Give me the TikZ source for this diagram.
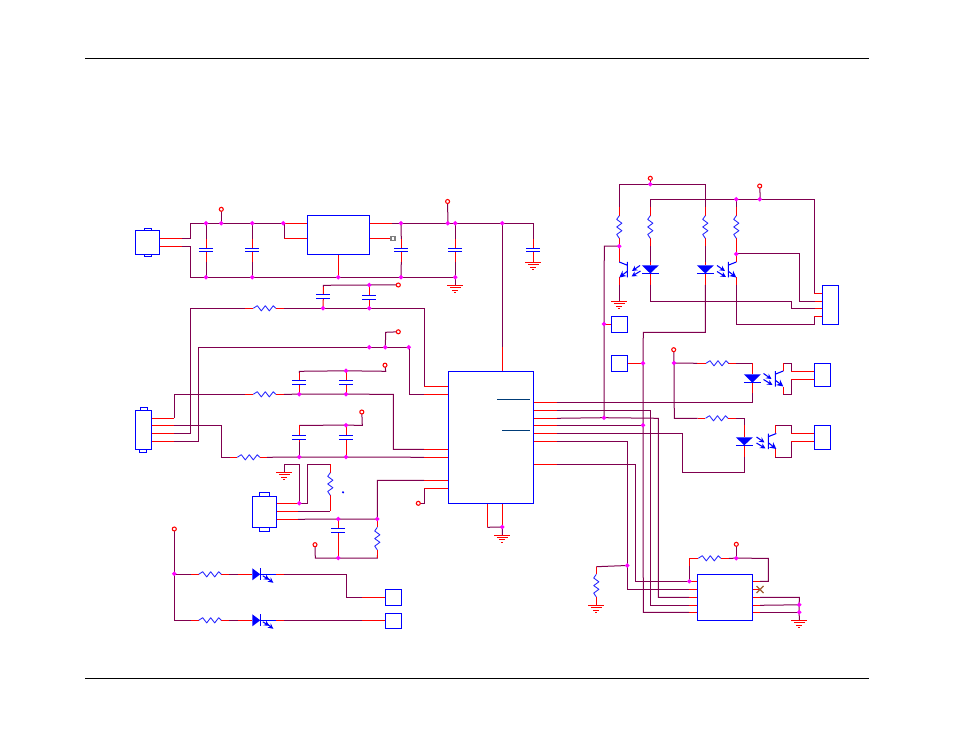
\documentclass[tikz,border=0pt]{standalone}
\usetikzlibrary{arrows.meta}
\definecolor{wirec}{HTML}{80004F}
\definecolor{pinc}{HTML}{FF0000}
\definecolor{bodyc}{HTML}{0000FF}
\definecolor{jc}{HTML}{FF00FF}
\definecolor{overc}{HTML}{003C78}
\definecolor{nc}{HTML}{A06030}
\tikzset{
 wire/.style={draw=wirec,line width=0.75pt,line join=miter},
 pin/.style={draw=pinc,line width=0.75pt},
 body/.style={draw=bodyc,line width=0.8pt},
 res/.style={draw=bodyc!85!white,line width=0.65pt,line join=round},
 boxs/.style={draw=bodyc,line width=0.8pt,inner sep=0pt,outer sep=0pt,fill=white},
 jct/.style={fill=jc,draw=none,rectangle,rotate=45,minimum size=2.5pt,inner sep=0pt,outer sep=0pt},
 term/.style={circle,draw=pinc,fill=white,line width=0.8pt,minimum size=3pt,inner sep=0pt,outer sep=0pt},
 gnd/.style={draw=pinc,line width=0.75pt},
 ray/.style={draw=bodyc,line width=0.8pt,-{Stealth[length=4pt,width=4pt]}},
 frame/.style={draw=black,line width=0.6pt}
}
\newcommand{\BX}[5]{% name x0 y0 x1 y1
 \pgfmathsetmacro{\bw}{(#4-#2)*0.75}\pgfmathsetmacro{\bh}{(#5-#3)*0.75}
 \node[boxs,minimum width=\bw pt,minimum height=\bh pt] (#1) at ({(#2+#4)/2},{(#3+#5)/2}) {};}
\newcommand{\J}[3]{\coordinate (#1) at (#2,#3);}
\newcommand{\T}[3]{\coordinate (#1) at (#2,#3);}
\newcommand{\RH}[2]{\draw[res,shift={(#1,#2)}] (0,0)--(4,-2.6)--(8,2.6)--(12,-2.6)--(16,2.6)--(20,-2.6)--(22.6,0);}
\newcommand{\RV}[2]{\draw[res,shift={(#1,#2)}] (0,0)--(-2.6,3.7)--(2.6,7.5)--(-2.6,11.3)--(2.6,15)--(-2.6,18.8)--(0,22.6);}
\newcommand{\CP}[3]{\draw[body] ({#1-7},#2)--({#1+7},#2) ({#1-7},#3)--({#1+7},#3);}
\newcommand{\GD}[2]{\draw[gnd] ({#1-8},#2)--({#1+8},#2) ({#1-5.5},{#2+2.4})--({#1+5.5},{#2+2.4}) ({#1-3},{#2+4.8})--({#1+3},{#2+4.8}) ({#1-1},{#2+7.2})--({#1+1},{#2+7.2});}
\newcommand{\LD}[4]{% x ytop ybot halfwidth, pointing down
 \fill[bodyc] ({#1-#4},#2)--({#1+#4},#2)--(#1,#3)--cycle; \draw[body] ({#1-#4},#3)--({#1+#4},#3);}
\newcommand{\LR}[2]{% x y, pointing right
 \fill[bodyc] (#1,{#2-6})--(#1,{#2+6})--({#1+8},#2)--cycle;
 \draw[body] ({#1+8.6},{#2-6})--({#1+8.6},{#2+6}) ({#1+8.6},#2)--({#1+24},#2);
 \draw[ray] ({#1+10.5},{#2+1.5})--({#1+17},{#2+5.5}); \draw[ray] ({#1+14},{#2+3})--({#1+21},{#2+8.5});}
\newcommand{\QR}[2]{% bar x, ytop: emitter to the right going down (collector right)
 \draw[body] (#1,#2)--(#1,{#2+15.5}) (#1,{#2+3.2})--({#1+8},#2);
 \draw[body,-{Stealth[length=5pt,width=5pt]}] (#1,{#2+9.2})--({#1+8},{#2+15.5});}
\newcommand{\QL}[2]{% bar x, ytop: leads to the left
 \draw[body] (#1,#2)--(#1,{#2+15.5}) (#1,{#2+3.2})--({#1-8},#2);
 \draw[body,-{Stealth[length=5pt,width=5pt]}] (#1,{#2+9.2})--({#1-8},{#2+15.5});}
\newcommand{\RY}[2]{% x y, rays to lower right
 \draw[ray] (#1,#2)--({#1+8},{#2+5.5}); \draw[ray] (#1,{#2+6})--({#1+9},{#2+11.5});}
\newcommand{\RYL}[2]{% x y, rays to lower left
 \draw[ray] (#1,#2)--({#1-8},{#2+5.5}); \draw[ray] ({#1+.5},{#2+5.5})--({#1-8.5},{#2+11});}
\begin{document}
\begin{tikzpicture}[x=0.75pt,y=-0.75pt]
\useasboundingbox (0,0) rectangle (954,738);
\fill[white] (0,0) rectangle (954,738);
% page rules
\coordinate (fa) at (85,58); \coordinate (fb) at (869,58);
\coordinate (fc) at (85,678); \coordinate (fd) at (869,678);
\draw[frame] (fa)--(fb); \draw[frame] (fc)--(fd);
% ---------- named points
\J{ja}{206}{223.3}\J{jb}{221.3}{223.3}\J{jc1}{252.3}{223.3}\J{jd}{283.3}{223.3}
\J{je}{206}{277.3}\J{jf}{252.3}{277.3}\J{jg}{338.3}{277.3}\J{jh}{401}{223.3}\J{ji}{401}{277.3}
\J{jj}{447.8}{223.3}\J{jk}{455.3}{223.3}\J{jl}{502.3}{223.3}\J{jm}{455.3}{277.3}
\J{jn}{369.3}{285}\J{jo}{323}{308.3}\J{jp}{369.3}{308.3}
\J{jq}{369.3}{347.3}\J{jr}{385.3}{347.3}\J{js}{408.7}{347.3}
\J{jt}{346}{370.8}\J{ju}{299.3}{394.2}\J{jv}{346}{394.2}
\J{jw}{346}{425.2}\J{jx}{299.3}{457}\J{jy}{346}{457}
\J{jz}{299.3}{503.3}\J{ka}{338.3}{519}\J{kb}{377.3}{519}\J{kc}{338.3}{558}
\J{kd}{174.3}{573.8}\J{ke}{502.3}{527}
\J{kf}{650.3}{184.3}\J{kg}{736.3}{199.3}\J{kh}{759.7}{199.3}\J{ki}{619.3}{246.2}\J{kj}{736.3}{254}
\J{kk}{604}{324}\J{kl}{604}{417.7}\J{km}{643}{363.2}\J{kn}{643}{425.3}\J{ko}{674}{363}
\J{kp}{627.2}{565.5}\J{kq}{689.3}{581.3}\J{kr}{736.3}{558.2}\J{ks}{799.2}{604.8}\J{kt}{799.2}{612.3}
\T{ta}{221.3}{209.3}\T{tb}{447.6}{201.5}\T{tc}{398.3}{285}\T{td}{398.3}{331.8}
\T{te}{385}{365.2}\T{tf}{361.8}{412}\T{tg}{315}{544.7}\T{th}{418.3}{503.3}\T{ti}{174.3}{529}
\T{tj}{650.3}{178.3}\T{tk}{759.7}{186}\T{tl}{673.7}{349.7}\T{tm}{736.3}{544.3}
% ---------- purple wiring
% supply rails
\draw[wire] (190.5,238.3)--(190.5,223.3)--(ja)--(jb)--(jc1)--(jd);
\draw[wire] (ta)--(jb);
\draw[wire] (182,238.3)--(190.5,238.3);
\draw[wire] (182,246.3)--(190.5,246.3)--(190.5,277.3)--(je)--(jf)--(jg)--(ji)--(jm);
\draw[wire] (392,223.3)--(jh)--(jj)--(jk)--(jl)--(533.3,223.3)--(533.3,239);
\draw[wire] (tb)--(447.9,223.3);
\draw[wire] (ja)--(206,239) (je)--(206,262);
\draw[wire] (jc1)--(252.3,239) (jf)--(252.3,262);
\draw[wire] (jh)--(401.3,239) (ji)--(401.3,262);
\draw[wire] (jk)--(455.3,239) (jm)--(455.3,262) (jm)--(455.3,285.3);
\draw[wire] (jl)--(502.3,346.7);
% cap rows and signal wires
\draw[wire] (323.3,287)--(323.3,285.3)--(jn)--(tc);
\draw[wire] (190.5,433.3)--(190.5,308.3)--(245,308.3);
\draw[wire] (284,308.3)--(jo)--(jp)--(424.3,308.3)--(424.3,386.3);
\draw[wire] (174,441.3)--(198.3,441.3)--(198.3,347.3)--(jq)--(jr)--(js)--(409.3,347.3)--(409.3,394.3)--(424,394.3);
\draw[wire] (jr)--(385.7,332.3)--(td);
\draw[wire] (174,433.3)--(190.5,433.3);
\draw[wire] (174.3,418.3)--(174.3,394.3)--(245,394.3);
\draw[wire] (284,394.3)--(ju)--(jv)--(393.3,394.3)--(393.3,449.3)--(424,449.3);
\draw[wire] (299.3,373)--(299.3,371.3)--(jt)--(385.7,371.3)--(te);
\draw[wire] (174,425.3)--(221.3,425.3)--(221.3,457.3)--(230,457.3);
\draw[wire] (267,457.3)--(jx)--(jy)--(424,457.3);
\draw[wire] (299.3,425.3)--(jw)--(362.3,425.3)--(tf);
\draw[wire] (299.3,442)--(jx);
% lower left
\draw[wire] (298,503.3)--(307.3,503.3)--(307.3,464.3)--(330.3,464.3);
\draw[wire] (jz)--(299.3,464.3)--(284.3,464.3)--(284.3,472.3);
\draw[wire] (298,511.3)--(330.3,511.3);
\draw[wire] (298,519.3)--(ka)--(kb)--(377.3,480.3)--(424,480.3);
\draw[wire] (tg)--(315.3,558)--(kc)--(377.3,558)--(377.3,555);
\draw[wire] (th)--(424.3,503.3)--(424.3,488.3);
\draw[wire] (ti)--(kd)--(174.3,620.3)--(191,620.3);
\draw[wire] (kd)--(174.3,574.3)--(191,574.3);
\draw[wire] (229,574.3)--(238.3,574.3) (284,574.3)--(346.7,574.3)--(346.7,597.3)--(362,597.3);
\draw[wire] (229,620.3)--(238.3,620.3) (284,620.3)--(362,620.3);
% bottom pin of U1
\draw[wire] (487.3,527.3)--(ke)--(502.3,535);
% right of U1
\draw[wire] (557,402.3)--(752.3,402.3)--(752.3,393.3);
\draw[wire] (557,410.3)--(650.7,410.3)--(650.7,605.3)--(689.3,605.3);
\draw[wire] (557,418.3)--(kl)--(658.3,418.3)--(658.3,597.3)--(689.3,597.3);
\draw[wire] (557,425.3)--(kn);
\draw[wire] (557,433.3)--(682.3,433.3)--(682.3,472.3)--(744.3,472.3)--(744.3,456.7);
\draw[wire] (557,441.3)--(627.3,441.3)--(627.3,589.3)--(689.3,589.3);
\draw[wire] (557,464.3)--(635.3,464.3)--(635.3,581.3)--(kq);
% opto receivers / top right
\draw[wire] (619.3,206.7)--(619.3,184.3)--(kf)--(705.3,184.3)--(705.3,206.7);
\draw[wire] (tj)--(kf);
\draw[wire] (650.3,206.7)--(650.3,199.3)--(kg)--(kh)--(814.3,199.3)--(814.3,293.7);
\draw[wire] (tk)--(760.3,199.3);
\draw[wire] (kg)--(736.3,206.7);
\draw[wire] (ki)--(604.3,246.2)--(kk)--(kl);
\draw[wire] (619.3,285)--(619.3,301.3);
\draw[wire] (650.3,246)--(650.3,262) (705.3,246)--(705.3,262);
\draw[wire] (650.3,285)--(650.3,301.3)--(791.3,301.3)--(791.3,308.3)--(815,308.3);
\draw[wire] (705.3,285)--(705.3,332.3)--(643.3,332.3)--(km)--(kn)--(643.3,612.3)--(689.3,612.3);
\draw[wire] (kj)--(799.7,254)--(799.7,301.3)--(815,301.3);
\draw[wire] (736.3,285)--(736.3,324.3)--(814.3,324.3)--(814.3,316.3);
% opto LEDs
\draw[wire] (tl)--(ko)--(674.3,418.3)--(697.7,418.3);
\draw[wire] (ko)--(697.3,363.3);
\draw[wire] (736,363.3)--(752.3,363.3);
\draw[wire] (736,418.3)--(744.3,418.3)--(744.3,425);
\draw[wire] (783.3,363.3)--(791.3,363.3)--(791.3,371.3);
\draw[wire] (783.3,394.3)--(791.3,394.3)--(791.3,379.3);
\draw[wire] (775.3,425.3)--(791.3,425.3)--(791.3,433.3);
\draw[wire] (775.3,457.3)--(791.3,457.3)--(791.3,441.3);
% U2
\draw[wire] (596.3,566.7)--(kp);
\draw[wire] (689.3,581.3)--(689.3,566) (kr)--(tm);
\draw[wire] (729,558.3)--(kr)--(768.3,558.3)--(768.3,581.3)--(760,581.3);
\draw[wire] (760,597.3)--(799.3,597.3)--(ks)--(kt)--(799.3,620.3);
\draw[wire] (760,605.3)--(ks);
\draw[wire] (760,612.3)--(kt);
% ---------- red pins
\draw[pin] (159.5,238.3)--(182,238.3) (159.5,246.3)--(182,246.3);
\draw[pin] (206,239)--(206,248.3) (206,251.7)--(206,262);
\draw[pin] (252.3,239)--(252.3,248.3) (252.3,251.7)--(252.3,262);
\draw[pin] (401.3,239)--(401.3,248.3) (401.3,251.7)--(401.3,262);
\draw[pin] (455.3,239)--(455.3,248.3) (455.3,251.7)--(455.3,262);
\draw[pin] (533.3,239)--(533.3,248.3) (533.3,251.7)--(533.3,262.3);
\draw[pin] (jd)--(307.3,223.3) (284.3,238.3)--(307.3,238.3);
\draw[wire] (284.3,223.3)--(284.3,238.3);
\draw[pin] (369.7,223.3)--(392,223.3) (369.7,238.3)--(391,238.3);
\draw[pin] (jg)--(338.3,254.3);
\draw[pin] (323.3,287)--(323.3,294.3) (323.3,298.3)--(jo);
\draw[pin] (jn)--(369.3,295.7) (369.3,299.7)--(jp);
\draw[pin] (502.3,346.7)--(502.3,371.3);
\draw[pin] (245,308.3)--(253.3,308.3) (276,308.3)--(284,308.3);
\draw[pin] (245,394.3)--(253.3,394.3) (276,394.3)--(284,394.3);
\draw[pin] (230,457.3)--(237.3,457.3) (260,457.3)--(267,457.3);
\draw[pin] (151.3,418.3)--(174.3,418.3) (151.3,425.3)--(174,425.3) (151.3,433.3)--(174,433.3) (151.3,441.3)--(174,441.3);
\draw[pin] (299.3,373)--(299.3,380.3) (299.3,384.3)--(ju);
\draw[pin] (jt)--(346,380.3) (346,384.3)--(jv);
\draw[pin] (299.3,425.3)--(299.3,435.3) (299.3,439.3)--(299.3,442);
\draw[pin] (jw)--(346,435.3) (346,439.3)--(jy);
\draw[pin] (276.7,503.3)--(298,503.3) (276.7,511.3)--(298,511.3) (276.7,519.3)--(298,519.3);
\draw[pin] (330.3,464.3)--(330.3,472.7) (330.3,495.3)--(330.3,511.3);
\draw[pin] (ka)--(338.3,528.3) (338.3,532.3)--(kc);
\draw[pin] (kb)--(377.3,527.3) (377.3,550)--(377.3,558);
\draw[pin] (191,574.3)--(198.7,574.3) (221.3,574.3)--(229,574.3) (238.3,574.3)--(252.3,574.3) (276,574.3)--(284,574.3);
\draw[pin] (191,620.3)--(198.7,620.3) (221.3,620.3)--(229,620.3) (238.3,620.3)--(252.3,620.3) (276,620.3)--(284,620.3);
\draw[pin] (362,597.3)--(385.3,597.3) (362,620.3)--(385.3,620.3);
% U1 pins
\draw[pin] (424.3,386.3)--(448.3,386.3) (424,394.3)--(448.3,394.3) (424,449.3)--(448.3,449.3) (424,457.3)--(448.3,457.3) (424,480.3)--(448.3,480.3) (424.3,488.3)--(448.3,488.3);
\draw[pin] (533.3,402.3)--(557,402.3) (533.3,410.3)--(557,410.3) (533.3,418.3)--(557,418.3) (533.3,425.3)--(557,425.3) (533.3,433.3)--(557,433.3) (533.3,441.3)--(557,441.3) (533.3,464.3)--(557,464.3);
\draw[pin] (487.3,503.3)--(487.3,527.3) (502.3,503.3)--(ke);
% right side
\draw[pin] (619.3,206.7)--(619.3,215.7) (619.3,238.3)--(619.3,261.7) (619.3,277.3)--(619.3,285);
\draw[pin] (650.3,206.7)--(650.3,215.7) (650.3,238.3)--(650.3,246) (650.3,273.5)--(650.3,285);
\draw[pin] (705.3,206.7)--(705.3,215.7) (705.3,238.3)--(705.3,246) (705.3,273.5)--(705.3,285);
\draw[pin] (736.3,206.7)--(736.3,215.7) (736.3,238.3)--(736.3,262) (736.3,277.3)--(736.3,285);
\draw[pin] (650.3,262)--(650.3,265.3) (705.3,262)--(705.3,265.3);
\draw[pin] (604.3,324)--(611.3,324) (627.7,363.3)--(643.3,363.3);
\draw[pin] (814.3,293.7)--(822.3,293.7) (815,301.3)--(822.3,301.3) (815,308.3)--(822.3,308.3) (814.3,316.3)--(822.3,316.3);
\draw[pin] (697.3,363.3)--(706,363.3) (728.3,363.3)--(736,363.3) (752.3,363.3)--(752.3,374.3) (752.3,382.7)--(752.3,393.3);
\draw[pin] (697.7,418.3)--(705.3,418.3) (728.3,418.3)--(736,418.3) (744.3,425)--(744.3,437.3) (744.3,445.3)--(744.3,456.7);
\draw[pin] (783.3,371)--(783.3,363.3) (783.3,387)--(783.3,394.3) (775.3,433.3)--(775.3,425.3) (775.3,449.3)--(775.3,457.3);
\draw[pin] (791.3,371.3)--(814.3,371.3) (791.3,379.3)--(814.3,379.3) (791.3,433.3)--(814.3,433.3) (791.3,441.3)--(814.3,441.3);
% U2
\draw[pin] (596.3,566.7)--(596.3,574.3) (596.3,597)--(596.3,605.3);
\draw[pin] (689.3,566)--(689.3,558.3)--(698.3,558.3) (721,558.3)--(729,558.3);
\draw[pin] (689.3,581.3)--(697.3,581.3) (689.3,589.3)--(697.3,589.3) (689.3,597.3)--(697.3,597.3) (689.3,605.3)--(697.3,605.3) (689.3,612.3)--(697.3,612.3);
\draw[pin] (752.3,581.3)--(760,581.3) (752.3,589.3)--(760,589.3) (752.3,597.3)--(760,597.3) (752.3,605.3)--(760,605.3) (752.3,612.3)--(760,612.3);
% ---------- bodies
\BX{con1}{135.3}{230.3}{159.5}{254.5}
\draw[body] (144.5,230.3) rectangle (151.5,228.3) (144.5,254.5) rectangle (151.5,256.3);
\BX{reg}{307.3}{215.3}{369.7}{254.3}
\BX{con2}{135.3}{410.3}{151.3}{449.3}
\draw[body] (140.3,410.3) rectangle (147.7,407.3) (139.3,449.3) rectangle (146.7,452.3);
\BX{con3}{252.3}{496.3}{276.7}{527.3}
\draw[body] (259.3,496.3) rectangle (269.7,492.3) (259.3,527.3) rectangle (269.7,531.3);
\BX{uone}{448.3}{371.3}{533.3}{503.3}
\draw[overc,line width=0.8pt] (497,399.3)--(529.7,399.3) (502,430.3)--(529.7,430.3);
\BX{uv}{697.3}{574.3}{752.3}{620.3}
\BX{bxa}{385.3}{589.3}{401.7}{605.3}
\BX{bxb}{385.3}{613.3}{401.7}{628.3}
\BX{bxc}{611.3}{316.3}{627.7}{332.3}
\BX{bxd}{611.3}{355.3}{627.7}{371.7}
\BX{con4}{822.3}{285.3}{838.7}{324.3}
\BX{con5}{814.3}{363.3}{830.7}{386.7}
\BX{con6}{814.3}{425.3}{830.7}{449.3}
\node[draw=gray,line width=0.8pt,inner sep=0pt,minimum size=3pt,fill=white] (tp) at (393,238.3) {};
% caps
\CP{206}{248.3}{251.7}\CP{252.3}{248.3}{251.7}\CP{401.3}{248.3}{251.7}\CP{455.3}{248.3}{251.7}\CP{533.3}{248.3}{251.7}
\CP{323.3}{294.3}{298.3}\CP{369.3}{295.7}{299.7}
\CP{299.3}{380.3}{384.3}\CP{346}{380.3}{384.3}
\CP{299.3}{435.3}{439.3}\CP{346}{435.3}{439.3}
\CP{338.3}{528.3}{532.3}
% resistors
\RH{253.3}{308.3}\RH{253.3}{394.3}\RH{237.3}{457.3}\RH{198.7}{574.3}\RH{198.7}{620.3}
\RH{706}{363.3}\RH{705.5}{418.3}\RH{698.3}{558.3}
\RV{330.3}{472.7}\RV{377.3}{527.3}\RV{596.3}{574.3}
\RV{619.3}{215.7}\RV{650.3}{215.7}\RV{705.3}{215.7}\RV{736.3}{215.7}
\fill[bodyc] (343,492.3) circle (1.2);
% grounds
\GD{533.3}{262.3}\GD{455.3}{285.3}\GD{284.3}{472.3}\GD{502.3}{535}\GD{619.3}{301.3}\GD{596.3}{605.3}\GD{799.3}{620.3}
% LEDs
\LR{252.3}{574.3}\LR{252.3}{620.3}
\LD{650.3}{265.3}{273.5}{8.5}\LD{705.3}{265.3}{273.5}{8.5}
\LD{752.3}{374.3}{382.7}{8.5}\LD{744.3}{437.3}{445.3}{8.5}
% transistors
\QL{627.3}{262}\RYL{640}{265.5}
\QR{728.3}{262}\RY{717}{265.5}
\QR{775.3}{371}\RY{763.5}{373.5}
\QR{768.3}{433.5}\RY{756.5}{437}
% no-connect
\draw[nc,line width=0.9pt] (756.5,586)--(763.5,593) (756.5,593)--(763.5,586);
% ---------- markers on top of the wiring
\foreach \n in {ja,jb,jc1,jd,je,jf,jg,jh,ji,jj,jk,jl,jm,jn,jo,jp,jq,jr,js,jt,ju,jv,jw,jx,jy,jz,ka,kb,kc,kd,ke,kf,kg,kh,ki,kj,kk,kl,km,kn,ko,kp,kq,kr,ks,kt}
  \node[jct] (m\n) at (\n) {};
\foreach \n in {ta,tb,tc,td,te,tf,tg,th,ti,tj,tk,tl,tm}
  \node[term] (m\n) at (\n) {};
\end{tikzpicture}
\end{document}
